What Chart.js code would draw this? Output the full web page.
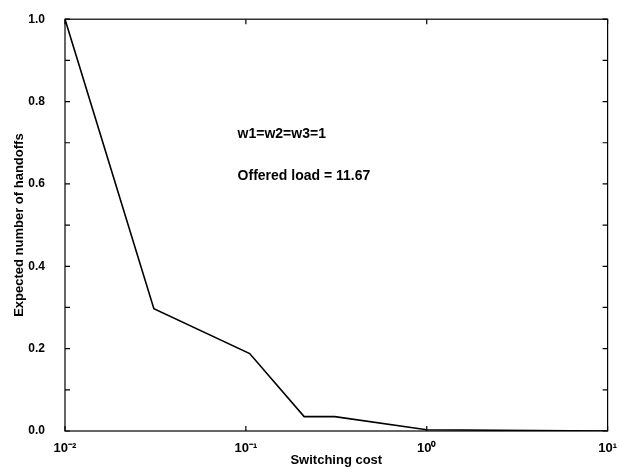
<!DOCTYPE html>
<html lang="en">
<head>
    <meta charset="UTF-8">
    <title>Expected number of handoffs</title>
    <script src="https://cdn.jsdelivr.net/npm/chart.js"></script>
    <style>
        * {
            margin: 0;
            padding: 0;
            box-sizing: border-box;
        }
        body {
            background-color: #fff;
            width: 619px;
            height: 475px;
            overflow: hidden;
        }
        canvas {
            display: block;
        }
    </style>
</head>
<body>
    <canvas id="handoffs" width="619" height="475"></canvas>
    <script>
        // switching cost vs expected number of handoffs
        var switchingCost = [0.01, 0.031, 0.105, 0.21, 0.31, 1, 10];
        var handoffs = [1.0, 0.297, 0.188, 0.035, 0.035, 0.003, 0.0];
        var xTicks = [0.01, 0.1, 1, 10];
        var xTickLabels = ['10\u207B\u00B2', '10\u207B\u00B9', '10\u2070', '10\u00B9'];
        var notes = ['w1=w2=w3=1', 'Offered load = 11.67'];

        var font = 'Liberation Sans, Arial, sans-serif';

        // box round the plot with inward ticks on all four sides
        var frame = {
            id: 'frame',
            afterDatasetsDraw: function (chart) {
                var c = chart.ctx, a = chart.chartArea;
                var xs = chart.scales.x, ys = chart.scales.y;
                c.save();
                c.strokeStyle = '#000';
                c.lineWidth = 1.2;
                c.strokeRect(a.left, a.top, a.right - a.left, a.bottom - a.top);
                c.beginPath();
                xs.ticks.forEach(function (t) {
                    var px = xs.getPixelForValue(t.value);
                    c.moveTo(px, a.bottom); c.lineTo(px, a.bottom - 5);
                    c.moveTo(px, a.top); c.lineTo(px, a.top + 5);
                });
                ys.ticks.forEach(function (t) {
                    var py = ys.getPixelForValue(t.value);
                    c.moveTo(a.left, py); c.lineTo(a.left + 5, py);
                    c.moveTo(a.right, py); c.lineTo(a.right - 5, py);
                });
                c.stroke();
                c.fillStyle = '#000';
                c.font = 'bold 14px ' + font;
                c.textBaseline = 'middle';
                var nx = xs.getPixelForValue(0.09);
                c.fillText(notes[0], nx, ys.getPixelForValue(0.72));
                c.fillText(notes[1], nx, ys.getPixelForValue(0.62));
                c.restore();
            }
        };

        var ctx = document.getElementById('handoffs').getContext('2d');
        var handoffChart = new Chart(ctx, {
            type: 'line',
            data: {
                datasets: [{
                    data: switchingCost.map(function (v, i) { return {x: v, y: handoffs[i]}; }),
                    borderColor: '#000',
                    borderWidth: 1.6,
                    pointRadius: 0,
                    fill: false,
                    tension: 0
                }]
            },
            options: {
                responsive: false,
                animation: false,
                layout: { padding: { top: 18, right: 9 } },
                plugins: { legend: { display: false }, tooltip: { enabled: false } },
                scales: {
                    x: {
                        type: 'logarithmic',
                        min: 0.01,
                        max: 10,
                        afterBuildTicks: function (s) {
                            s.ticks = xTicks.map(function (v) { return {value: v}; });
                        },
                        afterFit: function (s) { s.height = 44; },
                        grid: { display: false },
                        border: { display: false },
                        ticks: {
                            color: '#000',
                            padding: 2,
                            maxRotation: 0,
                            font: { family: font, size: 13, weight: 'bold' },
                            callback: function (v, i) { return xTickLabels[i]; }
                        },
                        title: {
                            display: true,
                            text: 'Switching cost',
                            color: '#000',
                            padding: { top: 7, bottom: 7 },
                            font: { family: font, size: 13, weight: 'bold' }
                        }
                    },
                    y: {
                        min: 0,
                        max: 1,
                        afterFit: function (s) { s.width = 65; },
                        grid: { display: false },
                        border: { display: false },
                        ticks: {
                            stepSize: 0.1,
                            color: '#000',
                            padding: 12,
                            font: { family: font, size: 12, weight: 'bold' },
                            callback: function (v, i) { return i % 2 === 0 ? v.toFixed(1) : ''; }
                        },
                        title: {
                            display: true,
                            text: 'Expected number of handoffs',
                            color: '#000',
                            padding: { top: 12, bottom: 0 },
                            font: { family: font, size: 13, weight: 'bold' }
                        }
                    }
                }
            },
            plugins: [frame]
        });
    </script>
</body>
</html>
